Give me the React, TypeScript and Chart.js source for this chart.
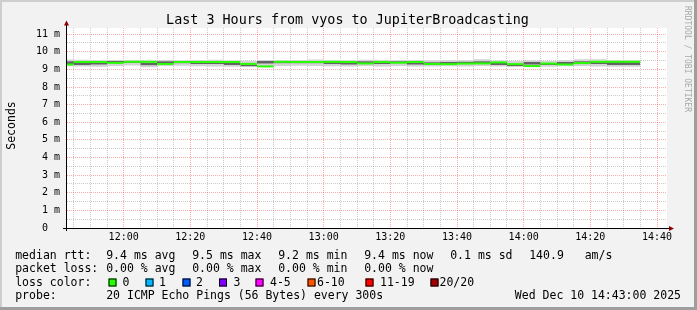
import { useEffect, useRef } from 'react';
import { Chart, registerables } from 'chart.js';

Chart.register(...registerables);

// ---------------- DATA ----------------
const segmentStarts = [
  '11:40', '11:45', '11:50', '11:55', '12:00', '12:05', '12:10', '12:15', '12:20', '12:25',
  '12:30', '12:35', '12:40', '12:45', '12:50', '12:55', '13:00', '13:05', '13:10', '13:15',
  '13:20', '13:25', '13:30', '13:35', '13:40', '13:45', '13:50', '13:55', '14:00', '14:05',
  '14:10', '14:15', '14:20', '14:25', '14:30',
];
// median rtt (ms)
const medianMs = [
  9.28, 9.42, 9.42, 9.37, 9.43, 9.43, 9.31, 9.42, 9.42, 9.42,
  9.42, 9.31, 9.17, 9.43, 9.42, 9.42, 9.43, 9.42, 9.34, 9.42,
  9.38, 9.42, 9.31, 9.30, 9.33, 9.34, 9.40, 9.30, 9.19, 9.33,
  9.28, 9.36, 9.43, 9.43, 9.43,
];
// smoke (ms): outer low, inner low, inner high, outer high
const smokeMin = [
  9.16, 9.18, 9.16, 9.15, 9.20, 9.22, 9.12, 9.19, 9.21, 9.18,
  9.17, 9.15, 9.13, 9.20, 9.19, 9.21, 9.20, 9.18, 9.16, 9.20,
  9.17, 9.19, 9.16, 9.17, 9.18, 9.16, 9.20, 9.17, 9.15, 9.16,
  9.15, 9.18, 9.20, 9.17, 9.15,
];
const smokeLowInner = [
  9.23, 9.30, 9.25, 9.27, 9.33, 9.35, 9.22, 9.31, 9.33, 9.30,
  9.31, 9.23, 9.16, 9.32, 9.33, 9.33, 9.34, 9.31, 9.27, 9.33,
  9.29, 9.33, 9.26, 9.25, 9.28, 9.29, 9.33, 9.25, 9.18, 9.27,
  9.24, 9.29, 9.33, 9.29, 9.25,
];
const smokeHighInner = [
  9.36, 9.46, 9.45, 9.42, 9.48, 9.48, 9.38, 9.46, 9.46, 9.46,
  9.46, 9.37, 9.25, 9.48, 9.46, 9.46, 9.48, 9.46, 9.41, 9.46,
  9.44, 9.46, 9.38, 9.40, 9.42, 9.44, 9.46, 9.38, 9.30, 9.42,
  9.35, 9.42, 9.47, 9.47, 9.47,
];
const smokeMax = [
  9.50, 9.56, 9.55, 9.52, 9.54, 9.53, 9.50, 9.54, 9.52, 9.54,
  9.55, 9.50, 9.49, 9.54, 9.52, 9.54, 9.56, 9.52, 9.52, 9.55,
  9.54, 9.52, 9.54, 9.52, 9.52, 9.52, 9.57, 9.50, 9.48, 9.50,
  9.48, 9.52, 9.57, 9.57, 9.52,
];
const stepMinutes = 5;
const rangeStart = '11:43';
const rangeEnd = '14:43';
const yTickLabels = ['0  ', '1 m', '2 m', '3 m', '4 m', '5 m', '6 m', '7 m', '8 m', '9 m', '10 m', '11 m'];
const yMax = 11.35;
const xTickLabels = ['12:00', '12:20', '12:40', '13:00', '13:20', '13:40', '14:00', '14:20', '14:40'];

const titleText = 'Last 3 Hours from vyos to JupiterBroadcasting';
const yAxisTitle = 'Seconds';
const watermark = 'RRDTOOL / TOBI OETIKER';
const rttRow = ['median rtt:', '9.4 ms avg', '9.5 ms max', '9.2 ms min', '9.4 ms now', '0.1 ms sd', '140.9', 'am/s'];
const lossRow = ['packet loss:', '0.00 % avg', '0.00 % max', '0.00 % min', '0.00 % now'];
const lossColorLabel = 'loss color:';
const lossColorNames = ['0', '1', '2', '3', '4-5', '6-10', '11-19', '20/20'];
const lossColors = ['#26ff00', '#00b8ff', '#0059ff', '#7e00ff', '#ff00ff', '#ff5500', '#ff0000', '#a10000'];
const probeRow = ['probe:', '20 ICMP Echo Pings (56 Bytes) every 300s'];
const dateText = 'Wed Dec 10 14:43:00 2025';

// ---------------- LAYOUT / STYLE ----------------
const W = 697;
const H = 310;
const FONT = '"DejaVu Sans Mono", monospace';
const rttX = [16, 107, 193, 279, 365, 451, 530, 585.5];
const lossX = [16, 107, 193, 279, 365];
const boxX = [108.5, 145.5, 182.5, 219, 255.5, 307.5, 365.5, 430.5];
const boxLabelX = [122.5, 159, 196, 233.5, 270, 317, 380, 439.5];
const rowBase = [258.5, 272, 285.7, 299.3];

const toMin = (t: string) => {
  const [h, m] = t.split(':').map(Number);
  return h * 60 + m;
};

const stepPts = (vals: number[]) => {
  const pts = segmentStarts.map((t, i) => ({ x: toMin(t), y: vals[i] }));
  const last = segmentStarts.length - 1;
  pts.push({ x: toMin(segmentStarts[last]) + stepMinutes, y: vals[last] });
  return pts;
};

const RED_GRID = 'rgba(255,0,0,0.33)';
const GRAY_GRID = 'rgba(128,128,128,0.42)';
const SMOKE_LIGHT = '#d2d2d2';
const SMOKE_DARK = '#646464';

const decorPlugin = {
  id: 'decor',
  beforeDraw(chart: any) {
    const { ctx, chartArea: a } = chart;
    ctx.save();
    ctx.fillStyle = '#f2f2f2';
    ctx.fillRect(0, 0, W, H);
    ctx.fillStyle = '#cecece';
    ctx.fillRect(0, 0, W, 2);
    ctx.fillRect(0, 0, 2, H);
    ctx.fillStyle = '#9e9e9e';
    ctx.fillRect(0, H - 3, W, 3);
    ctx.fillRect(W - 3, 0, 3, H);
    ctx.fillStyle = '#ffffff';
    ctx.fillRect(a.left, a.top, a.right - a.left, a.bottom - a.top);
    ctx.restore();
  },
  afterDatasetsDraw(chart: any) {
    const { ctx, chartArea: a } = chart;
    ctx.save();
    ctx.strokeStyle = '#000';
    ctx.lineWidth = 1;
    ctx.beginPath();
    ctx.moveTo(a.left - 0.5, a.bottom + 3);
    ctx.lineTo(a.left - 0.5, a.top - 4);
    ctx.moveTo(a.left - 4, a.bottom + 0.5);
    ctx.lineTo(a.right + 2, a.bottom + 0.5);
    ctx.stroke();
    ctx.fillStyle = '#8b0000';
    ctx.beginPath();
    ctx.moveTo(a.left - 3, a.top - 2.5);
    ctx.lineTo(a.left + 2, a.top - 2.5);
    ctx.lineTo(a.left - 0.5, a.top - 7.5);
    ctx.closePath();
    ctx.fill();
    ctx.beginPath();
    ctx.moveTo(a.right + 2, a.bottom - 2);
    ctx.lineTo(a.right + 2, a.bottom + 3);
    ctx.lineTo(a.right + 7, a.bottom + 0.5);
    ctx.closePath();
    ctx.fill();
    ctx.restore();
  },
  afterDraw(chart: any) {
    const { ctx } = chart;
    ctx.save();
    ctx.fillStyle = '#000';
    ctx.textBaseline = 'alphabetic';
    // title
    ctx.font = `13.4px ${FONT}`;
    ctx.textAlign = 'center';
    ctx.fillText(titleText, 347.5, 24);
    // y axis title
    ctx.font = `11.5px ${FONT}`;
    ctx.save();
    ctx.translate(15, 125.5);
    ctx.rotate(-Math.PI / 2);
    ctx.fillText(yAxisTitle, 0, 0);
    ctx.restore();
    // watermark
    ctx.save();
    ctx.fillStyle = '#a8a8a8';
    ctx.font = `8px ${FONT}`;
    ctx.translate(685, 59);
    ctx.rotate(Math.PI / 2);
    ctx.fillText(watermark, 0, 0);
    ctx.restore();
    // legend
    ctx.textAlign = 'left';
    ctx.font = `11.5px ${FONT}`;
    rttRow.forEach((t, i) => ctx.fillText(t, rttX[i] - 0.8, rowBase[0]));
    lossRow.forEach((t, i) => ctx.fillText(t, lossX[i] - 0.8, rowBase[1]));
    ctx.fillText(lossColorLabel, 16 - 0.8, rowBase[2]);
    lossColorNames.forEach((t, i) => {
      ctx.fillStyle = lossColors[i];
      ctx.fillRect(boxX[i], 278.5, 8, 8);
      ctx.strokeStyle = '#000';
      ctx.lineWidth = 1;
      ctx.strokeRect(boxX[i] + 0.5, 279, 7, 7);
      ctx.fillStyle = '#000';
      ctx.fillText(t, boxLabelX[i], rowBase[2]);
    });
    ctx.fillText(probeRow[0], 16 - 0.8, rowBase[3]);
    ctx.fillText(probeRow[1], 107 - 0.8, rowBase[3]);
    ctx.textAlign = 'right';
    ctx.fillText(dateText, 681, rowBase[3]);
    ctx.restore();
  },
};

export default function App() {
  const ref = useRef<HTMLCanvasElement | null>(null);
  useEffect(() => {
    document.body.style.margin = '0';
    const canvas = ref.current;
    if (!canvas) return;
    const xLabelMap: Record<number, string> = {};
    xTickLabels.forEach((l) => { xLabelMap[toMin(l)] = l; });
    const tickFont = { family: FONT, size: 10 };
    const smoke = (vals: number[], fill: any, bg: string) => ({
      data: stepPts(vals),
      borderWidth: 0,
      borderColor: 'transparent',
      pointRadius: 0,
      fill,
      backgroundColor: bg,
      stepped: 'after',
      clip: 0,
      order: 2,
    });
    const chart = new Chart(canvas, {
      type: 'line',
      data: {
        datasets: [
          smoke(smokeMin, false, 'transparent') as any,
          smoke(smokeLowInner, '-1', SMOKE_LIGHT) as any,
          smoke(smokeHighInner, '-1', SMOKE_DARK) as any,
          smoke(smokeMax, '-1', SMOKE_LIGHT) as any,
          {
            data: segmentStarts.map((t, i) => ({ x: toMin(t) + stepMinutes / 2, y: medianMs[i] })),
            showLine: false,
            pointStyle: 'line',
            pointRadius: 8.34,
            pointHoverRadius: 8.34,
            pointBorderWidth: 2,
            pointBorderColor: lossColors[0],
            pointBackgroundColor: lossColors[0],
            clip: 0,
            order: 0,
          } as any,
        ],
      },
      options: {
        responsive: false,
        animation: false,
        devicePixelRatio: 1,
        events: [],
        layout: { padding: { left: 0, right: 30, top: 28, bottom: 62 }, autoPadding: false } as any,
        plugins: { legend: { display: false }, tooltip: { enabled: false }, title: { display: false } },
        scales: {
          x: {
            type: 'linear',
            min: toMin(rangeStart),
            max: toMin(rangeEnd),
            afterBuildTicks: (s: any) => {
              const t = [];
              const first = Math.ceil(toMin(rangeStart) / stepMinutes) * stepMinutes;
              for (let v = first; v <= toMin(rangeEnd); v += stepMinutes) t.push({ value: v });
              s.ticks = t;
            },
            afterFit: (s: any) => { s.height = 20; },
            ticks: {
              autoSkip: false,
              maxRotation: 0,
              padding: 3,
              font: tickFont,
              color: '#000',
              callback: (v: any) => xLabelMap[v] ?? '',
            },
            grid: {
              drawTicks: false,
              lineWidth: 1,
              color: (c: any) => (xLabelMap[c.tick?.value] ? RED_GRID : GRAY_GRID),
            },
            border: { display: false, dash: [1, 1] },
          },
          y: {
            type: 'linear',
            min: 0,
            max: yMax,
            afterBuildTicks: (s: any) => {
              const t = [];
              for (let i = 0; i <= (yTickLabels.length - 1) * 2; i++) t.push({ value: i / 2 });
              s.ticks = t;
            },
            afterFit: (s: any) => { s.width = 67; },
            ticks: {
              autoSkip: false,
              padding: 7,
              font: tickFont,
              color: '#000',
              callback: (v: any) => (Number.isInteger(v) ? yTickLabels[v] : ''),
            },
            grid: {
              drawTicks: false,
              lineWidth: 1,
              color: (c: any) => {
                const v = c.tick?.value;
                if (v === 0) return 'rgba(0,0,0,0)';
                return Number.isInteger(v) ? RED_GRID : GRAY_GRID;
              },
            },
            border: { display: false, dash: [1, 1] },
          },
        },
      },
      plugins: [decorPlugin],
    });
    return () => chart.destroy();
  }, []);
  return (
    <div style={{ position: 'fixed', left: 0, top: 0, width: W, height: H }}>
      <canvas ref={ref} width={W} height={H} style={{ display: 'block', width: W, height: H }} />
    </div>
  );
}
